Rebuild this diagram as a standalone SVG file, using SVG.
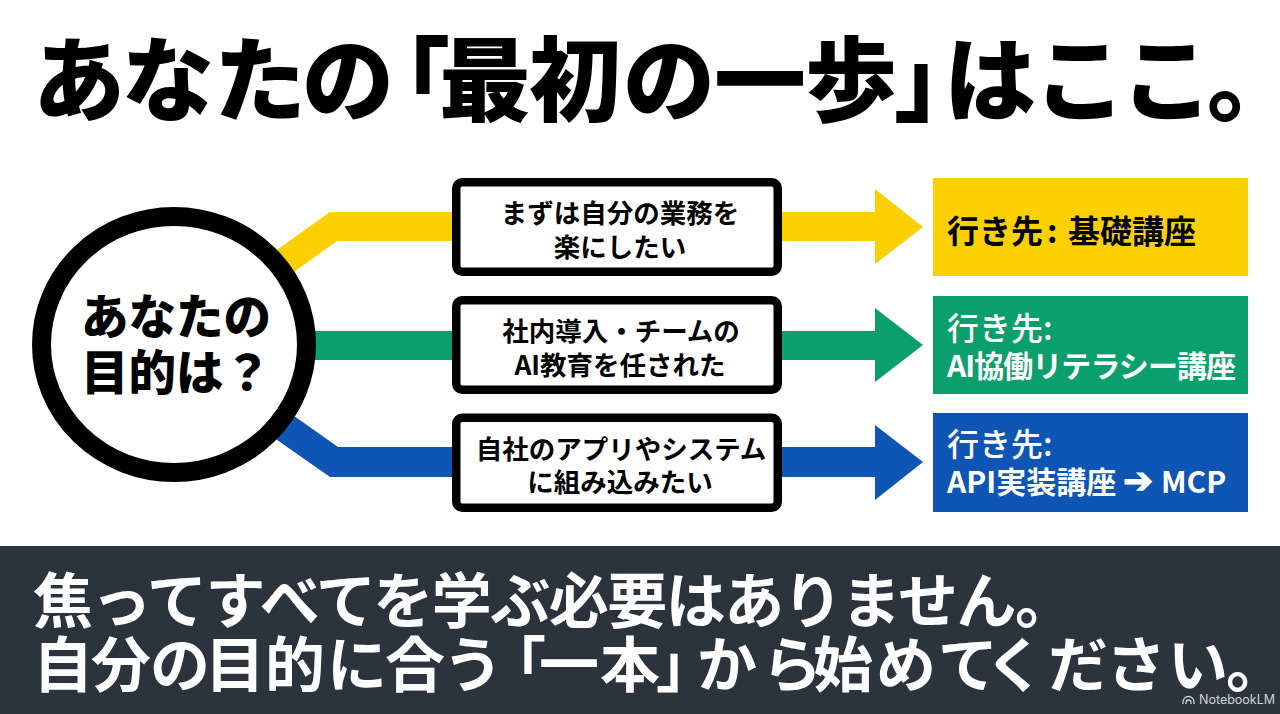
<svg xmlns="http://www.w3.org/2000/svg" width="1280" height="714" viewBox="0 0 1280 714">
<style>
text{font-family:"Noto Sans CJK JP","Noto Sans",sans-serif;font-weight:700}
.box{fill:#fff;stroke:#000;stroke-width:8.500}
.t{font-size:26.500px;text-anchor:middle;fill:#000}
.d{font-size:30px;fill:#fff}
.h{font-size:32px;fill:#fff;font-weight:500}
.y{fill:#FBD000}.g{fill:#0A9F6C}.b{fill:#0F55B4}
.f{font-size:60px;fill:#fff;font-weight:700}
.k{font-weight:900}
.logo{font-family:Inter,"Liberation Sans",sans-serif;font-weight:400;font-size:12.500px;fill:#cfd3d6}
</style>
<rect width="1280" height="714" fill="#fff"/>
<text id="title" class="k" y="114" font-size="92" x="33 122 214 302 358 439 529 623 714 805 894 944 1034 1121 1207">あなたの「最初の一歩」はここ。</text>
<g id="connectors">
<polygon class="y" points="260,262 330,212 452,212 452,241 337,241 280,282"/>
<polygon class="g" points="300,331 452,331 452,360 300,360"/>
<polygon class="b" points="280,406 338,447 452,447 452,477 330,477 260,428"/>
<polygon class="y" points="782,212 875,212 875,189 923,227 875,264 875,241 782,241"/>
<polygon class="g" points="782,331 875,331 875,308 923,345 875,382 875,360 782,360"/>
<polygon class="b" points="782,447 875,447 875,425 923,462 875,500 875,477 782,477"/>
</g>
<g id="start"><ellipse cx="174" cy="344.500" rx="132.500" ry="128" fill="#fff" stroke="#000" stroke-width="19"/>
<text class="k" x="81" y="334" font-size="47.500">あなたの</text>
<text class="k" x="81" y="390" font-size="47.500">目的は？</text></g>
<g id="q1"><rect class="box" x="456.250" y="182.250" width="321.500" height="89.500" rx="6"/>
<text class="t" x="620" y="223">まずは自分の業務を</text><text class="t" x="620" y="257">楽にしたい</text></g>
<g id="q2"><rect class="box" x="456.250" y="300.250" width="321.500" height="89.500" rx="6"/>
<text class="t" x="621" y="341">社内導入・チームの</text><text class="t" x="620" y="375">AI教育を任された</text></g>
<g id="q3"><rect class="box" x="456.250" y="417.750" width="321.500" height="90" rx="6"/>
<text class="t" x="621" y="459">自社のアプリやシステム</text><text class="t" x="620" y="492">に組み込みたい</text></g>
<g id="d1"><rect class="y" x="933" y="178" width="315" height="98"/>
<text x="947" y="243" font-size="32" fill="#000">行き先<tspan x="1047">:</tspan><tspan x="1068">基礎講座</tspan></text></g>
<g id="d2"><rect class="g" x="933" y="296" width="315" height="98"/>
<text class="h" x="947" y="340">行き先:</text><text class="d" x="947" y="377" textLength="289">AI協働リテラシー講座</text></g>
<g id="d3"><rect class="b" x="933" y="413" width="315" height="99"/>
<text class="h" x="947" y="456">行き先:</text><text class="d" x="947" y="493">API実装講座<tspan x="1123" font-size="36">➔</tspan><tspan x="1161">MCP</tspan></text></g>
<g id="footer"><rect y="546" width="1280" height="168" fill="#2B343D"/>
<text class="f" x="33" y="623" letter-spacing="-1.500">焦ってすべてを学ぶ必要はありません。</text>
<text class="f" y="687" x="33 91 150 205 265 327 385 443 486 539 600 656 697 762 813 876 938 985 1048 1106 1168 1226">自分の目的に合う「一本」から始めてください。</text>
<path d="M1183 704v-2a5.500 5.500 0 0 1 11 0v2M1186 704v-1.500a2.500 2.500 0 0 1 5 0v1.500" fill="none" stroke="#cfd3d6" stroke-width="1.300"/>
<text class="logo" x="1199" y="704">NotebookLM</text></g>
</svg>
